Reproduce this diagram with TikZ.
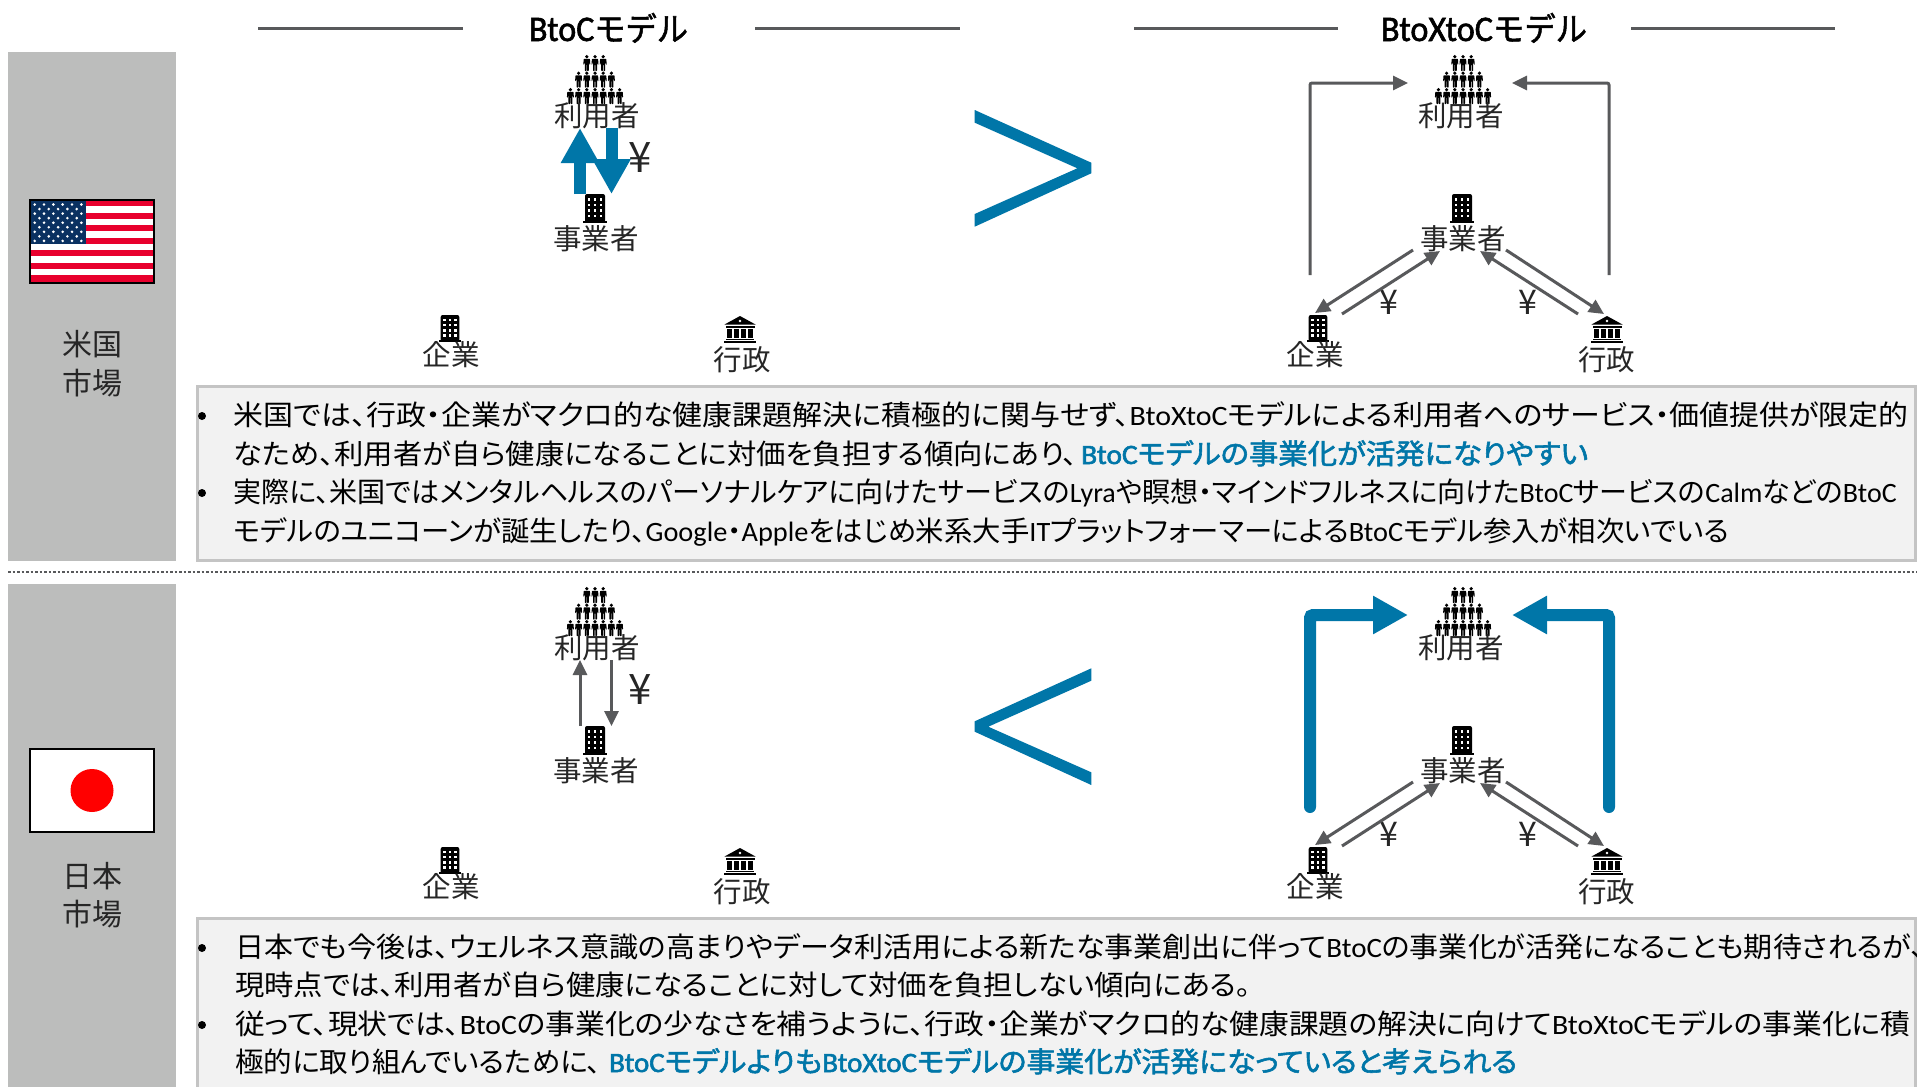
\documentclass[tikz,border=0pt]{standalone}
\usepackage{fontspec}
\usepackage{graphicx}
\usetikzlibrary{arrows.meta}
\setmainfont{Carlito}
\newfontfamily\cjk[RawFeature=+palt]{Noto Sans CJK JP}
\newfontfamily\cjkb[RawFeature=+palt,FakeBold=2]{Noto Sans CJK JP}
\newfontfamily\cjkplain{Noto Sans CJK JP}
\newfontfamily\cjkhead[FakeBold=1.6]{Noto Sans CJK JP}
\newfontfamily\latf{Carlito}
\newfontfamily\latb[FakeBold=2]{Carlito}
\newfontfamily\lathead[FakeBold=1.6]{Carlito}
\newcommand{\lat}[1]{{\latf #1}}
\newcommand{\latB}[1]{{\latb #1}}
\definecolor{bluemain}{HTML}{0076A8}
\definecolor{graymain}{HTML}{58595B}
\definecolor{panelgray}{HTML}{BCBDBC}
\definecolor{boxfill}{HTML}{F2F2F2}
\definecolor{boxline}{HTML}{C4C4C4}
\definecolor{flagred}{HTML}{E8002D}
\definecolor{flagblue}{HTML}{0A3161}
\tikzset{
  x=1pt,y=-1pt,
  panelbox/.style={fill=panelgray,draw=none},
  textbox/.style={fill=boxfill,draw=boxline,line width=3pt},
  lbl/.style={font=\cjkplain\fontsize{28.5}{28.5}\selectfont,text=black!85,inner sep=0pt,anchor=base},
  sidelbl/.style={font=\cjkplain\fontsize{30}{30}\selectfont,text=black!85,inner sep=0pt,anchor=base},
  yenlbl/.style={font=\cjkplain\fontsize{#1}{#1}\selectfont,text=black!85,inner sep=0pt},
  yenlbl/.default=28,
  bodyline/.style={inner sep=0pt,anchor=base west,text=black},
  bullet/.style={inner sep=0pt,anchor=center,fill=black,circle,minimum size=8pt},
  head/.style={inner sep=0pt,anchor=base,text=black},
  rule/.style={draw=graymain,line width=3pt},
  grayarrow/.style={draw=graymain,line width=3pt,-{Triangle[length=15pt,width=14pt]}},
  bluearrow/.style={draw=bluemain,line width=12pt,-{Triangle[length=35pt,width=36pt]}},
  people/.pic={
    \foreach \r/\n in {0/3,1/5,2/7}{
      \foreach \i in {1,...,\n}{
        \begin{scope}[shift={({(\i-(\n+1)/2)*8.2},{-17+\r*16.5})}]
          \fill[black] (0,-6.3) circle (1.8);
          \fill[black,rounded corners=.6pt] (-3.1,-4.2) -- (3.1,-4.2) -- (3.5,1.5) -- (2.7,1.5) -- (2,-1.5) -- (2,8) -- (.3,8) -- (.3,1.5) -- (-.3,1.5) -- (-.3,8) -- (-2,8) -- (-2,-1.5) -- (-2.7,1.5) -- (-3.5,1.5) -- cycle;
        \end{scope}
      }
    }
  },
  building/.pic={
    \fill[black,rounded corners=2pt] (-10,14) -- (-10,-14.5) -- (10,-14.5) -- (10,14) -- cycle;
    \fill[black] (-12,12.5) rectangle (12,14.5);
    \foreach \cx in {-6,0,6}{
      \foreach \cy in {-9,-3.5,2,7.5}{
        \fill[white] (\cx-1.3,\cy-1.3) rectangle (\cx+1.3,\cy+1.3);
      }
    }
  },
  bank/.pic={
    \fill[black] (-15.5,-5) -- (0,-13.5) -- (15.5,-5) -- cycle;
    \fill[white] (0,-8.5) circle (1.4);
    \fill[black] (-14.5,-4) rectangle (14.5,-2);
    \foreach \cx in {-10.5,-3.5,3.5,10.5}{
      \fill[black] (\cx-2.3,-1) rectangle (\cx+2.3,8.5);
    }
    \fill[black] (-14,9) rectangle (14,10.5);
    \fill[black] (-16,11) rectangle (16,13.5);
  }
}
% one line of body text, forced to the measured width
\newcommand{\tln}[5]{\node[bodyline,#5] (#1) at (#2) {\resizebox{#3pt}{\height}{\cjk\fontsize{28}{28}\selectfont #4}};}
% diagram parts common to both rows
\newcommand{\actors}[1]{%
  \pic at (595,80) {people};
  \node[lbl] (#1uL) at (597,126) {利用者};
  \pic at (595,208.5) {building};
  \node[lbl] (#1bL) at (596,249) {事業者};
  \pic[scale=.93] at (450,328.5) {building};
  \node[lbl] (#1eL) at (451,365) {企業};
  \pic at (740,329.5) {bank};
  \node[lbl] (#1gL) at (742,370) {行政};
  \pic at (1463,80) {people};
  \node[lbl] (#1uR) at (1461,126) {利用者};
  \pic at (1462,208.5) {building};
  \node[lbl] (#1bR) at (1463,249) {事業者};
  \pic[scale=.93] at (1318,328.5) {building};
  \node[lbl] (#1eR) at (1315,365) {企業};
  \pic at (1607,329.5) {bank};
  \node[lbl] (#1gR) at (1606.5,370) {行政};
  \node[yenlbl=42] (#1y) at (640,158) {¥};
  \node[yenlbl=34] (#1yl) at (1389,302) {¥};
  \node[yenlbl=34] (#1yr) at (1528,302) {¥};
  \coordinate (#1a1) at (580,194);
  \coordinate (#1a2) at (580,128);
  \coordinate (#1a3) at (611.5,128);
  \coordinate (#1a4) at (611.5,194);
  \coordinate (#1c1) at (1310,275);
  \coordinate (#1c2) at (1310,83);
  \coordinate (#1c3) at (1408,83);
  \coordinate (#1d1) at (1609,275);
  \coordinate (#1d2) at (1609,83);
  \coordinate (#1d3) at (1512,83);
  \coordinate (#1e1) at (1413,250);
  \coordinate (#1e2) at (1315,313);
  \coordinate (#1e3) at (1342,314);
  \coordinate (#1e4) at (1440,251);
  \coordinate (#1f1) at (1506,250);
  \coordinate (#1f2) at (1604,314);
  \coordinate (#1f3) at (1578,314);
  \coordinate (#1f4) at (1480,251);
  \draw[grayarrow] (#1e1) -- (#1e2);
  \draw[grayarrow] (#1e3) -- (#1e4);
  \draw[grayarrow] (#1f1) -- (#1f2);
  \draw[grayarrow] (#1f3) -- (#1f4);
}
\begin{document}
\begin{tikzpicture}
\useasboundingbox (0,0) rectangle (1917,1087);
\fill[white] (0,0) rectangle (1917,1087);

% headers
\node[head] (h1) at (608.5,41) {\resizebox{159pt}{\height}{\fontsize{36}{36}\selectfont{\lathead BtoC}{\cjkhead\fontsize{33}{33}\selectfont モデル}}};
\node[head] (h2) at (1484,41) {\resizebox{206pt}{\height}{\fontsize{36}{36}\selectfont{\lathead BtoXtoC}{\cjkhead\fontsize{33}{33}\selectfont モデル}}};
\coordinate (r1a) at (258,28); \coordinate (r1b) at (463,28);
\coordinate (r2a) at (755,28); \coordinate (r2b) at (960,28);
\coordinate (r3a) at (1134,28); \coordinate (r3b) at (1338,28);
\coordinate (r4a) at (1631,28); \coordinate (r4b) at (1835,28);
\draw[rule] (r1a) -- (r1b);
\draw[rule] (r2a) -- (r2b);
\draw[rule] (r3a) -- (r3b);
\draw[rule] (r4a) -- (r4b);

% side panels
\fill[panelbox] (8,52) rectangle (176,561);
\fill[panelbox] (8,584) rectangle (176,1087);
\node[sidelbl] (us1) at (92,355) {米国};
\node[sidelbl] (us2) at (92,394) {市場};
\node[sidelbl] (jp1) at (92,887) {日本};
\node[sidelbl] (jp2) at (92,925) {市場};

% US flag
\fill[white] (29,199) rectangle (155,283);
\foreach \s in {0,2,...,12}{
  \fill[flagred] (29,{200+\s*6.27}) rectangle (155,{200+(\s+1)*6.27});
}
\fill[flagblue] (29,199) rectangle (86,244);
\foreach \r in {0,2,4,6,8}{
  \foreach \c in {0,...,5}{\fill[white] ({34.7+\c*9.33},{204.5+\r*4.55}) circle (1.45);}
}
\foreach \r in {1,3,5,7}{
  \foreach \c in {0,...,4}{\fill[white] ({39.4+\c*9.33},{204.5+\r*4.55}) circle (1.45);}
}
\draw[black,line width=2pt] (30,200) rectangle (154,282.5);

% Japan flag
\fill[white] (30,749) rectangle (154,832);
\fill[red] (92,790.5) circle (21.5);
\draw[black,line width=2pt] (30,749) rectangle (154,832);

% separator
\coordinate (sepa) at (8,572); \coordinate (sepb) at (1917,572);
\draw[draw=graymain,line width=2.5pt,dash pattern=on 2.5pt off 2pt] (sepa) -- (sepb);

% comparison signs
\fill[bluemain] (974.7,110) -- (1091.3,162.7) -- (1091.3,173.3) -- (974.7,226.7) -- (974.7,214) -- (1077.3,168.3) -- (974.7,122.7) -- cycle;
\fill[bluemain] (1091.3,668.3) -- (974.7,721.3) -- (974.7,731.7) -- (1091.3,785) -- (1091.3,772.3) -- (988.3,726.7) -- (1091.3,680.7) -- cycle;

% USA row
\begin{scope}
  \actors{a}
  \draw[bluearrow] (aa1) -- (aa2);
  \draw[bluearrow] (aa3) -- (aa4);
  \draw[grayarrow,rounded corners=2pt] (ac1) -- (ac2) -- (ac3);
  \draw[grayarrow,rounded corners=2pt] (ad1) -- (ad2) -- (ad3);
\end{scope}

% Japan row
\begin{scope}[shift={(0,532)}]
  \actors{b}
  \draw[grayarrow] (ba1) -- (ba2);
  \draw[grayarrow] (ba3) -- (ba4);
  \draw[bluearrow,line cap=round,rounded corners=3pt] (bc1) -- (bc2) -- (bc3);
  \draw[bluearrow,line cap=round,rounded corners=3pt] (bd1) -- (bd2) -- (bd3);
\end{scope}

% text boxes
\draw[textbox] (197.5,386.5) rectangle (1915,560);
\draw[textbox] (197.5,918) rectangle (1915,1100);

\node[bullet] (b1) at (202,416) {};
\node[bullet] (b2) at (202,493) {};
\node[bullet] (b3) at (202,948) {};
\node[bullet] (b4) at (202,1025) {};

\tln{t1}{233.5,425}{1675}{米国では、行政・企業がマクロ的な健康課題解決に積極的に関与せず、\lat{BtoXtoC}モデルによる利用者へのサービス・価値提供が限定的}{}
\tln{t2}{233.5,464}{844}{なため、利用者が自ら健康になることに対価を負担する傾向にあり、}{}
\tln{t2b}{1081,464}{507}{\cjkb \latB{BtoC}モデルの事業化が活発になりやすい}{text=bluemain}
\tln{t3}{233.5,502}{1663}{実際に、米国ではメンタルヘルスのパーソナルケアに向けたサービスの\lat{Lyra}や瞑想・マインドフルネスに向けた\lat{BtoC}サービスの\lat{Calm}などの\lat{BtoC}}{}
\tln{t4}{233.5,541}{1495}{モデルのユニコーンが誕生したり、\lat{Google}・\lat{Apple}をはじめ米系大手\lat{IT}プラットフォーマーによる\lat{BtoC}モデル参入が相次いでいる}{}

\tln{t5}{235,957}{1690}{日本でも今後は、ウェルネス意識の高まりやデータ利活用による新たな事業創出に伴って\lat{BtoC}の事業化が活発になることも期待されるが、}{}
\tln{t6}{235,995}{1016}{現時点では、利用者が自ら健康になることに対して対価を負担しない傾向にある。}{}
\tln{t7}{235,1034}{1675}{従って、現状では、\lat{BtoC}の事業化の少なさを補うように、行政・企業がマクロ的な健康課題の解決に向けて\lat{BtoXtoC}モデルの事業化に積}{}
\tln{t8}{235,1072}{366}{極的に取り組んでいるために、}{}
\tln{t8b}{609,1072}{908}{\cjkb \latB{BtoC}モデルよりも\latB{BtoXtoC}モデルの事業化が活発になっていると考えられる}{text=bluemain}
\end{tikzpicture}
\end{document}
